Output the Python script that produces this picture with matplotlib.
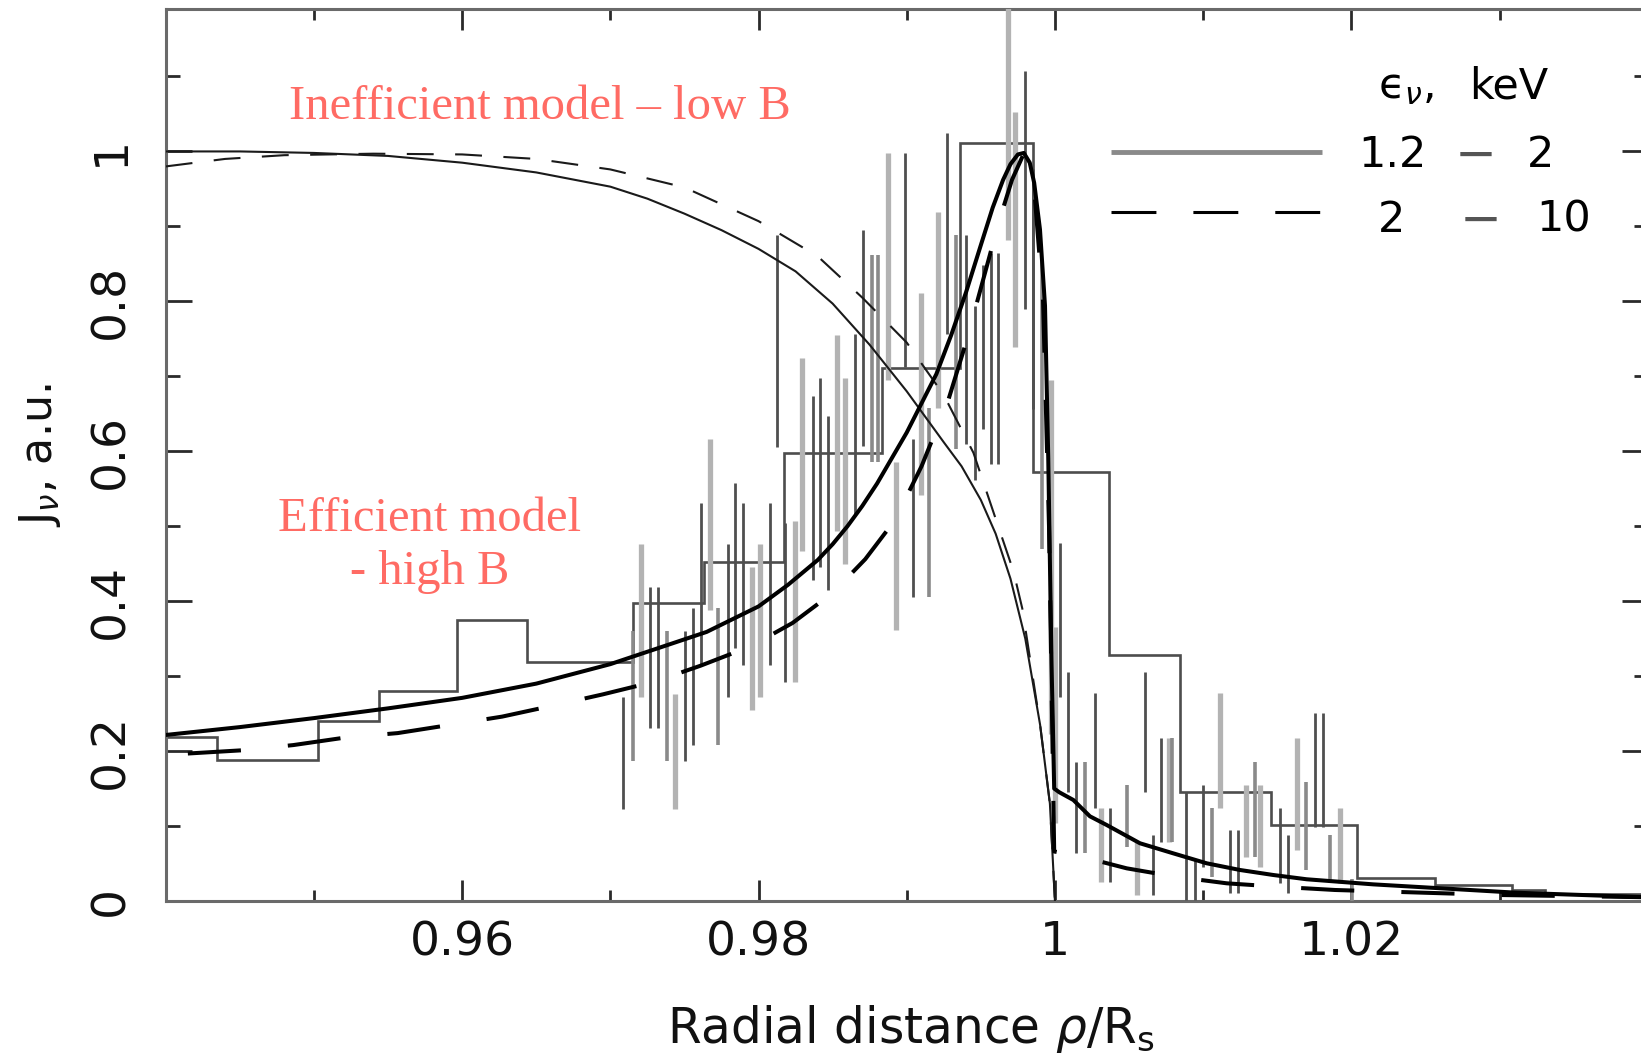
import numpy as np
import matplotlib
matplotlib.use("Agg")
import matplotlib.pyplot as plt
from matplotlib.ticker import MultipleLocator, FuncFormatter

# ---------------- data ----------------
# binned profile (step histogram), bin edges and heights
hist_edges = [0.9400, 0.94347, 0.95028, 0.95441, 0.95964, 0.9644, 0.97153, 0.9763,
              0.9817, 0.9883, 0.9936, 0.99855, 1.00365, 1.00845, 1.0146, 1.02036,
              1.02565, 1.03085, 1.0331, 1.0400]
hist_vals = [0.219, 0.1876, 0.2395, 0.280, 0.375, 0.3186, 0.398, 0.452, 0.598,
             0.711, 1.011, 0.572, 0.328, 0.145, 0.1018, 0.0305, 0.0215, 0.0147, 0.010]

# individual points: position, lower / upper end of error bar, shade
bar_x = [0.97087, 0.97150, 0.97204, 0.97267, 0.97319, 0.97380, 0.97436, 0.97503,
         0.97555, 0.97609, 0.97672, 0.97728, 0.97791, 0.97840, 0.97892, 0.97953,
         0.98009, 0.98077, 0.98126, 0.98181, 0.98248, 0.98295, 0.98365, 0.98414,
         0.98466, 0.98530, 0.98583, 0.98650, 0.98702, 0.98763, 0.98808, 0.98876,
         0.98927, 0.98988, 0.99040, 0.99094, 0.99152, 0.99213, 0.99274, 0.99332,
         0.99399, 0.99460, 0.99512, 0.99566, 0.99613, 0.99685, 0.99730, 0.99798,
         0.99850, 0.99911, 0.99971, 1.00000, 1.00034, 1.00085, 1.00139, 1.00202,
         1.00270, 1.00310, 1.00371, 1.00488, 1.00551, 1.00607, 1.00659, 1.00713,
         1.00771, 1.00792, 1.00887, 1.00945, 1.00997, 1.01058, 1.01113, 1.01181,
         1.01237, 1.01289, 1.01350, 1.01383, 1.01518, 1.01574, 1.01635, 1.01692,
         1.01754, 1.01811, 1.01856, 1.01923, 1.02002]
bar_lo = [0.1225, 0.1872, 0.2723, 0.2314, 0.2314, 0.1872, 0.1225, 0.1872,
          0.2076, 0.3131, 0.388, 0.2076, 0.2723, 0.337, 0.3153, 0.2552,
          0.2723, 0.3153, 0.606, 0.2927, 0.2927, 0.4663, 0.4288, 0.4459,
          0.4152, 0.4935, 0.4499, 0.5146, 0.6065, 0.5861, 0.5861, 0.695,
          0.3614, 0.712, 0.4057, 0.5418, 0.4057, 0.6574, 0.7562, 0.603,
          0.6098, 0.5621, 0.6302, 0.5827, 0.5827, 0.882, 0.739, 0.790,
          0.657, 0.4697, 0.2228, 0.1037, 0.2726, 0.1458, 0.0636, 0.0636,
          0.1237, 0.0258, 0.0258, 0.0725, 0.008, 0.1458, 0.008, 0.079,
          0.079, 0.079, 0.001, 0.001, 0.0458, 0.0323, 0.1237, 0.0103,
          0.0103, 0.0591, 0.0591, 0.0458, 0.0236, 0.0103, 0.068, 0.0414,
          0.0992, 0.0992, 0.0236, 0.0236, 0.0]
bar_hi = [0.2723, 0.3608, 0.4765, 0.4187, 0.4187, 0.3608, 0.2755, 0.3608,
          0.3913, 0.5309, 0.616, 0.3913, 0.4765, 0.558, 0.5309, 0.4459,
          0.4765, 0.5309, 0.888, 0.5037, 0.507, 0.7249, 0.674, 0.6977,
          0.6467, 0.7556, 0.6983, 0.7562, 0.8958, 0.8618, 0.8618, 0.9978,
          0.5861, 0.9978, 0.6166, 0.8106, 0.6574, 0.9196, 1.025, 0.889,
          0.889, 0.7936, 0.8481, 0.8651, 0.8651, 1.25, 1.052, 1.107,
          0.977, 0.855, 0.6946, 0.366, 0.477, 0.306, 0.186, 0.186,
          0.277, 0.1237, 0.1237, 0.1548, 0.0791, 0.306, 0.088, 0.217,
          0.217, 0.217, 0.1458, 0.055, 0.1548, 0.1237, 0.277, 0.0947,
          0.0947, 0.1548, 0.186, 0.1548, 0.1237, 0.088, 0.217, 0.159,
          0.2503, 0.2503, 0.088, 0.1237, 0.03]
# d = dark, g = mid grey, l = light grey
bar_shade = list("dglddglddd" "lgdddllddd" "lldddllddg" "gllddlgldg" "dddddllddg"
                 "lldddgdldg" "ldddlgdddg" "lddlglddlg" "ddglg")

# efficient model (high B), 1.2-2 keV : thick solid
eff_soft_x = [0.9400, 0.9450, 0.9500, 0.9550, 0.9600, 0.9650, 0.9700, 0.9765, 0.9800,
              0.9820, 0.9840, 0.9850, 0.9860, 0.9870, 0.9880, 0.9900, 0.9920, 0.9930,
              0.9940, 0.9950, 0.9958, 0.9965, 0.9970, 0.9975, 0.9979, 0.9983, 0.9986,
              0.99899, 0.99933, 0.99955, 0.99977, 0.99995,
              1.0003, 1.00124, 1.00236, 1.00349, 1.00574, 1.00798, 1.01024, 1.01248,
              1.01473, 1.01698, 1.02148, 1.0312, 1.0400]
eff_soft_y = [0.2215, 0.232, 0.244, 0.257, 0.271, 0.290, 0.316, 0.359, 0.393,
              0.422, 0.455, 0.476, 0.500, 0.527, 0.557, 0.625, 0.703, 0.755,
              0.812, 0.875, 0.925, 0.962, 0.983, 0.996, 0.998, 0.985, 0.958,
              0.896, 0.794, 0.590, 0.3175, 0.150,
              0.145, 0.1348, 0.113, 0.1014, 0.077, 0.0636, 0.0503, 0.0414,
              0.0347, 0.029, 0.0222, 0.011, 0.005]

# efficient model (high B), 2-10 keV : thick dashed
eff_hard_x = [0.9400, 0.9451, 0.9486, 0.9521, 0.95565, 0.9592, 0.9627, 0.9662, 0.9695,
              0.9730, 0.9761, 0.9795, 0.9823, 0.9850, 0.9872, 0.9892, 0.9910,
              0.9928, 0.9940, 0.9952, 0.9962, 0.9971, 0.99785,
              0.9986, 0.9992, 0.9996, 0.99995, 1.00135, 1.00484, 1.0081, 1.01159,
              1.01507, 1.01889, 1.0250, 1.0300, 1.0400]
eff_hard_y = [0.195, 0.201, 0.208, 0.218, 0.224, 0.235, 0.246, 0.261, 0.2757,
              0.2927, 0.314, 0.340, 0.371, 0.411, 0.456, 0.508, 0.580,
              0.668, 0.745, 0.832, 0.905, 0.962, 0.995,
              0.95, 0.80, 0.50, 0.066, 0.0614, 0.0436, 0.0325, 0.0236,
              0.019, 0.0147, 0.011, 0.008, 0.005]

# inefficient model (low B), 1.2-2 keV : thin solid
ineff_soft_x = [0.9400, 0.9450, 0.9500, 0.9550, 0.9600, 0.9650, 0.9700, 0.9725,
                0.9750, 0.9775, 0.9800, 0.9825, 0.9850, 0.9875, 0.9900, 0.9925,
                0.9937, 0.9950, 0.9960, 0.9970, 0.9980, 0.9990, 0.99966, 1.0000]
ineff_soft_y = [1.000, 1.000, 0.998, 0.994, 0.985, 0.972, 0.953, 0.937,
                0.917, 0.895, 0.870, 0.840, 0.797, 0.742, 0.680, 0.612,
                0.580, 0.535, 0.490, 0.430, 0.350, 0.235, 0.130, 0.0]

# inefficient model (low B), 2-10 keV : thin dashed
ineff_hard_x = [0.9400, 0.9440, 0.9480, 0.9540, 0.9600, 0.9650, 0.9700, 0.9750,
                0.9800, 0.9840, 0.9870, 0.9900, 0.9925, 0.9945, 0.9960, 0.9972,
                0.9978, 0.9990, 0.99966, 1.0000]
ineff_hard_y = [0.980, 0.990, 0.995, 0.997, 0.996, 0.990, 0.976, 0.952,
                0.907, 0.860, 0.805, 0.745, 0.675, 0.598, 0.510, 0.440,
                0.390, 0.235, 0.130, 0.0]

x_ticks = [0.96, 0.98, 1.00, 1.02]
y_ticks = [0.0, 0.2, 0.4, 0.6, 0.8, 1.0]

# ---------------- style ----------------
plt.rcParams['font.family'] = ['DejaVu Sans']
plt.rcParams['mathtext.fontset'] = 'dejavusans'

RED = '#ff6b64'
SHADES = {'d': ('#4f4f4f', 2.0), 'g': ('#8a8a8a', 2.6), 'l': ('#b3b3b3', 3.8)}


def fmt(v, pos):
    return f"{v:g}"


fig = plt.figure(figsize=(16.41, 10.61), dpi=100)
# the original is cropped on the right, so the axes run slightly past the edge
ax = fig.add_axes([0.101, 0.1508, 0.9031, 0.8407])

# histogram
ax.stairs(hist_vals, hist_edges, color='#4d4d4d', linewidth=1.9, zorder=2)

# error bars
bx = np.array(bar_x)
blo = np.array(bar_lo)
bhi = np.array(bar_hi)
sh = np.array(bar_shade)
for key in ['l', 'g', 'd']:
    m = sh == key
    col, lw = SHADES[key]
    ax.vlines(bx[m], blo[m], bhi[m], colors=col, linewidth=lw, zorder=3)

# model curves
ax.plot(ineff_soft_x, ineff_soft_y, color='#1a1a1a', lw=1.5, zorder=4)
ax.plot(ineff_hard_x, ineff_hard_y, color='#1a1a1a', lw=1.5,
        linestyle=(0, (12.9, 10.3)), zorder=4)
ax.plot(eff_soft_x, eff_soft_y, color='black', lw=2.9, zorder=5)
ax.plot(eff_hard_x, eff_hard_y, color='black', lw=2.9,
        linestyle=(19.4, (13.2, 11.7)), zorder=5)

# axes
ax.set_xlim(0.94, 1.04)
ax.set_ylim(0, 1.19)
ax.set_xticks(x_ticks)
ax.set_yticks(y_ticks)
ax.xaxis.set_minor_locator(MultipleLocator(0.01))
ax.yaxis.set_minor_locator(MultipleLocator(0.1))
ax.xaxis.set_major_formatter(FuncFormatter(fmt))
ax.yaxis.set_major_formatter(FuncFormatter(fmt))

for s in ax.spines.values():
    s.set_color('#6a6a6a')
    s.set_linewidth(2.2)

ax.tick_params(which='both', direction='in', top=True, right=True,
               color='#2a2a2a', width=2.0, labelcolor='#111111')
ax.tick_params(axis='x', which='major', length=15, pad=14, labelsize=34)
ax.tick_params(axis='x', which='minor', length=8)
ax.tick_params(axis='y', which='major', length=19, pad=23, labelsize=34,
               labelrotation=90)
ax.tick_params(axis='y', which='minor', length=10)
for lab in ax.get_yticklabels():
    lab.set_va('center')

ax.set_xlabel(r'Radial distance $\rho/\mathrm{R}_\mathrm{s}$', fontsize=35,
              va='baseline', color='#111111')
ax.xaxis.set_label_coords(0.503, -0.159)
ax.set_ylabel(r'$\mathrm{J}_\nu$, a.u.', fontsize=32, va='center', color='#111111')
ax.yaxis.set_label_coords(-0.085, 0.5)

# legend drawn by hand, as in the original
tr = ax.transAxes
ax.text(0.818, 0.8999, '\u03f5$_\\nu$,', fontsize=31, transform=tr, va='baseline')
ax.text(0.8797, 0.8999, 'keV', fontsize=31, transform=tr, va='baseline')
ax.plot([0.638, 0.780], [0.8397, 0.8397], transform=tr, color='#8a8a8a', lw=3.5,
        solid_capstyle='butt')
ax.plot([0.638, 0.779], [0.7721, 0.7721], transform=tr, color='black', lw=2.2,
        linestyle=(0, (14.7, 12.1)))
ax.text(0.805, 0.8232, '1.2', fontsize=31, transform=tr, va='baseline')
ax.text(0.884, 0.8195, '\u2212', fontsize=36, color='#555555', transform=tr,
        va='baseline', ha='center')
ax.text(0.9185, 0.8232, '2', fontsize=31, transform=tr, va='baseline')
ax.text(0.818, 0.7503, '2', fontsize=31, transform=tr, va='baseline')
ax.text(0.887, 0.7466, '\u2212', fontsize=36, color='#555555', transform=tr,
        va='baseline', ha='center')
ax.text(0.925, 0.7503, '10', fontsize=31, transform=tr, va='baseline')

# red annotations
ax.text(0.2525, 0.877, 'Inefficient model \u2013 low B', fontsize=35, color=RED,
        family='Liberation Serif', ha='center', va='baseline', transform=tr)
ax.text(0.178, 0.415, 'Efficient model', fontsize=35, color=RED,
        family='Liberation Serif', ha='center', va='baseline', transform=tr)
ax.text(0.178, 0.3554, '- high B', fontsize=35, color=RED,
        family='Liberation Serif', ha='center', va='baseline', transform=tr)

fig.savefig('out.png', dpi=100)
